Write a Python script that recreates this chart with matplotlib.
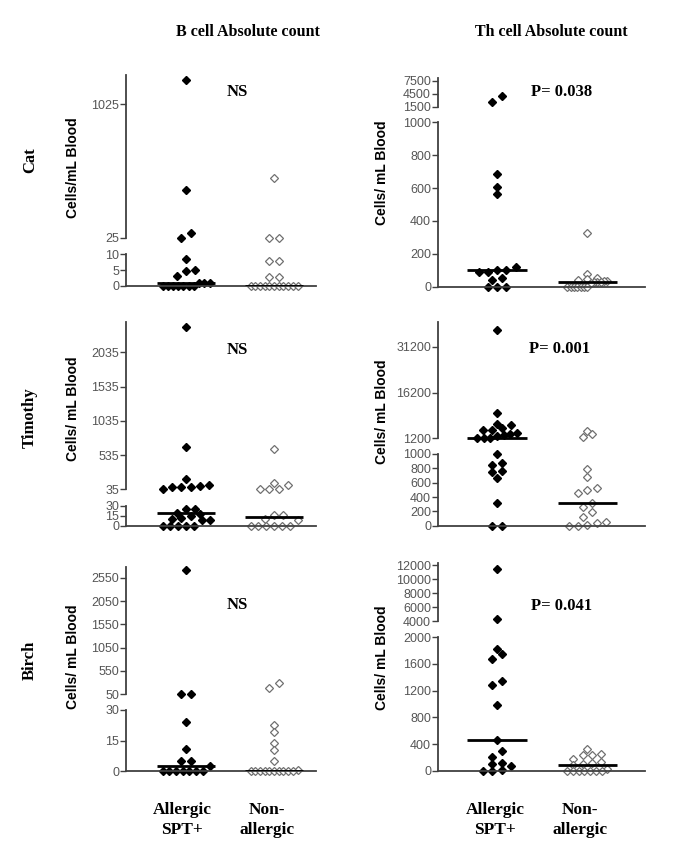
import numpy as np
import matplotlib
matplotlib.use("Agg")
import matplotlib.pyplot as plt

# values (cells / mL blood)
b_cat_allergic = [1207, 384, 66, 25, 8.4, 5, 4.7, 3.2, 1, 1, 1, 0, 0, 0, 0, 0, 0, 0]
b_cat_nonallergic = [472, 27, 25, 8, 8, 2.7, 2.7, 0, 0, 0, 0, 0, 0, 0, 0, 0, 0, 0]
th_cat_allergic = [3970, 2650, 685, 608, 562, 122, 104, 100, 92, 88, 55, 41, 0, 0, 0]
th_cat_nonallergic = [325, 75, 50, 45, 38, 35, 32, 30, 30, 28, 25, 0, 0, 0, 0, 0, 0, 0]

b_tim_allergic = [2400, 648, 181, 98, 80, 75, 73, 65, 44, 25, 25, 20, 18, 15, 11, 10, 9, 8,
                  0, 0, 0, 0, 0]
b_tim_nonallergic = [619, 126, 98, 40, 36, 36, 17, 17, 10, 8, 0, 0, 0, 0, 0, 0]
th_tim_allergic = [36700, 9400, 6000, 5500, 4500, 4000, 3800, 3000, 2600, 2400, 1800, 1200,
                   1200, 1200, 1000, 870, 845, 763, 745, 661, 312, 0, 0]
th_tim_nonallergic = [3590, 2600, 1530, 787, 675, 530, 498, 460, 321, 257, 187, 126, 47, 33,
                      10, 0, 0]

b_birch_allergic = [2715, 56, 55, 24, 11, 5, 5, 2.6, 0, 0, 0, 0, 0, 0, 0]
b_birch_nonallergic = [286, 191, 22.7, 19.4, 13.7, 10.4, 5.2, 0.5, 0, 0, 0, 0, 0, 0, 0, 0, 0, 0]
th_birch_allergic = [11470, 4290, 1825, 1745, 1670, 1345, 1285, 985, 460, 295, 210, 111, 96, 75,
                     10, 0, 0]
th_birch_nonallergic = [320, 250, 240, 235, 180, 125, 120, 100, 90, 20, 0, 0, 0, 0, 0, 0, 0]

# tick values of the broken y axes
b_cat_ticks = [0, 5, 10, 25, 1025]
th_cat_ticks = [0, 200, 400, 600, 800, 1000, 1500, 4500, 7500]
b_tim_ticks = [0, 15, 30, 35, 535, 1035, 1535, 2035]
th_tim_ticks = [0, 200, 400, 600, 800, 1000, 1200, 16200, 31200]
b_birch_ticks = [0, 15, 30, 50, 550, 1050, 1550, 2050, 2550]
th_birch_ticks = [0, 400, 800, 1200, 1600, 2000, 4000, 6000, 8000, 10000, 12000]

p_labels = ["NS", "P= 0.038", "NS", "P= 0.001", "NS", "P= 0.041"]
row_names = ["Cat", "Timothy", "Birch"]
col_titles = ["B cell Absolute count", "Th cell Absolute count"]
group_labels = ["Allergic\nSPT+", "Non-\nallergic"]

W, H = 685, 856

# panel layout in pixels: left, right, baseline, top, break values, break heights (px)
panels = [
    (126, 316, 286.0, 75, [0, 10, 25, 1025], [0, 31.7, 48, 181.7],
     b_cat_allergic, b_cat_nonallergic, b_cat_ticks, "Cells/mL Blood", 168),
    (438, 645, 286.7, 78, [0, 1000, 1500, 7500], [0, 164.4, 180, 206],
     th_cat_allergic, th_cat_nonallergic, th_cat_ticks, "Cells/ mL Blood", 173),
    (126, 316, 525.7, 321.7, [0, 30, 35, 2035], [0, 19.7, 36.4, 173.4],
     b_tim_allergic, b_tim_nonallergic, b_tim_ticks, "Cells/ mL Blood", 409),
    (438, 645, 525.7, 321.7, [0, 1000, 1200, 31200], [0, 71.7, 87.4, 179],
     th_tim_allergic, th_tim_nonallergic, th_tim_ticks, "Cells/ mL Blood", 412),
    (126, 316, 771.3, 566.7, [0, 30, 50, 2550], [0, 61.3, 77, 193.6],
     b_birch_allergic, b_birch_nonallergic, b_birch_ticks, "Cells/ mL Blood", 657),
    (438, 645, 770.7, 563, [0, 2000, 4000, 12000], [0, 133.4, 149.4, 205.4],
     th_birch_allergic, th_birch_nonallergic, th_birch_ticks, "Cells/ mL Blood", 658),
]
p_xy = [(237, 92), (562, 92), (237, 350), (560, 349), (237, 605), (562, 606)]


def make_scale(vals, pos):
    vals = np.asarray(vals, float)
    pos = np.asarray(pos, float)
    s0 = (pos[1] - pos[0]) / (vals[1] - vals[0])
    s1 = (pos[-1] - pos[-2]) / (vals[-1] - vals[-2])
    big = 1e7
    v = np.concatenate([[vals[0] - big], vals, [vals[-1] + big]])
    p = np.concatenate([[pos[0] - big * s0], pos, [pos[-1] + big * s1]])
    return (lambda y: np.interp(y, v, p)), (lambda q: np.interp(q, p, v))


def swarm(pos, spacing=9.3, maxwidth=46, thr=6):
    # points whose heights nearly overlap go side by side in a centred row
    order = np.argsort(pos, kind="stable")
    offs = np.zeros(len(pos))
    groups, cur = [], [order[0]]
    for i in order[1:]:
        if pos[i] - pos[cur[0]] < thr:
            cur.append(i)
        else:
            groups.append(cur)
            cur = [i]
    groups.append(cur)
    for g in groups:
        n = len(g)
        step = spacing if n < 2 else min(spacing, maxwidth / (n - 1))
        for k, i in enumerate(g):
            offs[i] = (k - (n - 1) / 2) * step
    return offs


fig = plt.figure(figsize=(W / 100, H / 100), dpi=100)

spine_c = "#404040"
for n, (x0, x1, base, top, bv, bp, allergic, nonallergic, ticks, ylab, ylab_y) in enumerate(panels):
    ax = fig.add_axes([x0 / W, 1 - base / H, (x1 - x0) / W, (base - top) / H])
    fwd, inv = make_scale(bv, bp)
    ax.set_yscale("function", functions=(fwd, inv))
    ytop = float(inv(base - top))
    ax.set_ylim(0, ytop)
    right_col = n % 2 == 1
    xlim = (0.344, 2.64) if right_col else (0.318, 2.477)
    ax.set_xlim(*xlim)
    px_per_x = (x1 - x0) / (xlim[1] - xlim[0])
    maxw = 40 if right_col else 47

    for g, (vals, filled) in enumerate([(allergic, True), (nonallergic, False)]):
        vals = np.asarray(vals, float)
        offs = swarm(fwd(vals), maxwidth=maxw)
        xs = (g + 1) + offs / px_per_x
        if filled:
            ax.plot(xs, vals, "D", ms=4.2, color="black", clip_on=False, zorder=2)
        else:
            ax.plot(xs, vals, "D", ms=4.2, mfc="white", mec="#707070", mew=0.9,
                    clip_on=False, zorder=2)
        ax.hlines(np.median(vals), g + 1 - 0.33, g + 1 + 0.33, color="black", lw=2, zorder=3)

    # broken left axis drawn as two pieces
    for seg in [(0, bv[1]), (bv[2], ytop)]:
        ax.plot([xlim[0], xlim[0]], seg, color=spine_c, lw=1.3, clip_on=False, zorder=1)
    for s in ["top", "right", "left"]:
        ax.spines[s].set_visible(False)
    ax.spines["bottom"].set_color(spine_c)
    ax.spines["bottom"].set_linewidth(1.3)
    ax.set_xticks([])
    ax.set_yticks(ticks)
    ax.yaxis.set_minor_locator(matplotlib.ticker.NullLocator())
    ax.set_yticklabels([str(t) for t in ticks], family="Liberation Sans", fontsize=9,
                       color="#555555")
    ax.tick_params(axis="y", length=4, width=1, color=spine_c, pad=1)
    ax.patch.set_alpha(0)

    lx = 382 if right_col else 73
    fig.text(lx / W, 1 - ylab_y / H, ylab, rotation=90, ha="center", va="center",
             family="Liberation Sans", fontweight="bold", fontsize=10)
    px, py = p_xy[n]
    fig.text(px / W, 1 - py / H, p_labels[n], ha="center", va="center",
             family="Liberation Serif", fontweight="bold", fontsize=12)

serif = dict(family="Liberation Serif", fontweight="bold")
for cx, t in zip([248, 551], col_titles):
    fig.text(cx / W, 1 - 32 / H, t, ha="center", va="center", fontsize=11.5, **serif)
for cy, t in zip([160, 418, 660], row_names):
    fig.text(30 / W, 1 - cy / H, t, rotation=90, ha="center", va="center", fontsize=12, **serif)
for cx, t in zip([182, 267, 495, 580], group_labels * 2):
    fig.text(cx / W, 1 - 820 / H, t, ha="center", va="center", fontsize=12.5,
             linespacing=1.3, **serif)

fig.savefig("out.png", dpi=100)
